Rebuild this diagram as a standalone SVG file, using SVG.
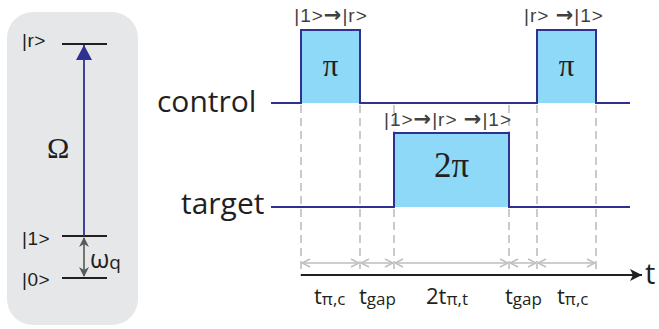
<svg xmlns="http://www.w3.org/2000/svg" width="659" height="329" viewBox="0 0 659 329">
<defs>
<style>
.sans{font-family:"Open Sans","Liberation Sans",sans-serif;fill:#231f20}
.serif{font-family:"Liberation Serif","DejaVu Serif",serif;fill:#231f20}
.lvl{stroke:#231f20;stroke-width:1.8}
.sig{fill:none;stroke:#2e3192;stroke-width:2}
.pulse{fill:#8ed8f8;stroke:none}
.dash{stroke:#bcbec0;stroke-width:1.6;stroke-dasharray:8 5}
.span{stroke:#bcbec0;stroke-width:1.5;marker-start:url(#ch);marker-end:url(#ch)}
.st{font-family:"Liberation Sans",Arial,sans-serif;fill:#414042;font-size:19px;letter-spacing:1px}
.ar{font-family:"DejaVu Sans",sans-serif;font-weight:bold;font-size:21px}
.ket{font-family:"Liberation Sans",Arial,sans-serif;fill:#231f20;font-size:19px;letter-spacing:0.5px}
</style>
<marker id="ch" viewBox="0 0 10 10" refX="10" refY="5" markerWidth="10" markerHeight="10" markerUnits="userSpaceOnUse" orient="auto-start-reverse">
<path d="M2,1 L10,5 L2,9" fill="none" stroke="#bcbec0" stroke-width="1.5"/>
</marker>
<marker id="gr" viewBox="0 0 10 10" refX="9" refY="5" markerWidth="10" markerHeight="10" markerUnits="userSpaceOnUse" orient="auto-start-reverse">
<path d="M0,0 L10,5 L0,10 L3,5 Z" fill="#58595b"/>
</marker>
<marker id="bl" viewBox="0 0 16 16" refX="15" refY="8" markerWidth="16" markerHeight="16" markerUnits="userSpaceOnUse" orient="auto">
<path d="M0,0 L15,8 L0,16 Z" fill="#2e3192"/>
</marker>
<marker id="ax" viewBox="0 0 12 12" refX="12" refY="6" markerWidth="12" markerHeight="12" markerUnits="userSpaceOnUse" orient="auto">
<path d="M0,0 L12,6 L0,12 L3,6 Z" fill="#231f20"/>
</marker>
</defs>

<g id="level-panel">
<rect x="7" y="12" width="131" height="313" rx="26" fill="#e6e7e8"/>
<line class="lvl" x1="62" y1="44" x2="107" y2="44"/>
<line class="lvl" x1="62" y1="236" x2="107" y2="236"/>
<line class="lvl" x1="62" y1="278" x2="107" y2="278"/>
<text class="ket" x="22" y="47">|r&gt;</text>
<text class="ket" x="22" y="245">|1&gt;</text>
<text class="ket" x="22" y="286">|0&gt;</text>
<line x1="84" y1="236" x2="84" y2="45" stroke="#2e3192" stroke-width="1.8" marker-end="url(#bl)"/>
<line x1="84" y1="238" x2="84" y2="276" stroke="#58595b" stroke-width="1.6" marker-start="url(#gr)" marker-end="url(#gr)"/>
<text class="serif" x="47" y="158" font-size="30">Ω</text>
<text class="sans" x="90" y="268" font-size="25">ω<tspan font-size="19" dy="1">q</tspan></text>
</g>

<g id="connectors">
<line class="dash" x1="301" y1="105" x2="301" y2="276"/>
<line class="dash" x1="360" y1="105" x2="360" y2="276"/>
<line class="dash" x1="394" y1="105" x2="394" y2="276"/>
<line class="dash" x1="509" y1="105" x2="509" y2="276"/>
<line class="dash" x1="537" y1="105" x2="537" y2="276"/>
<line class="dash" x1="596" y1="105" x2="596" y2="276"/>
<line class="span" x1="302" y1="263" x2="359" y2="263"/>
<line class="span" x1="361" y1="263" x2="393" y2="263"/>
<line class="span" x1="395" y1="263" x2="508" y2="263"/>
<line class="span" x1="510" y1="263" x2="536" y2="263"/>
<line class="span" x1="538" y1="263" x2="595" y2="263"/>
<line x1="301" y1="275" x2="642" y2="275" stroke="#231f20" stroke-width="2" marker-end="url(#ax)"/>
</g>

<g id="control">
<text class="sans" x="157" y="112" font-size="30">control</text>
<rect class="pulse" x="301" y="30" width="59" height="73"/>
<rect class="pulse" x="537" y="30" width="59" height="73"/>
<path class="sig" d="M271,103 H301 V30 H360 V103 H537 V30 H596 V103 H630"/>
<text class="serif" x="330.5" y="76" font-size="31" text-anchor="middle">π</text>
<text class="serif" x="566.5" y="76" font-size="31" text-anchor="middle">π</text>
<text class="st" x="331" y="22" text-anchor="middle">|1&gt;<tspan class="ar">→</tspan>|r&gt;</text>
<text class="st" x="564" y="22" text-anchor="middle">|r&gt; <tspan class="ar">→</tspan>|1&gt;</text>
</g>

<g id="target">
<text class="sans" x="181" y="214" font-size="30">target</text>
<rect class="pulse" x="394" y="133" width="115" height="74"/>
<path class="sig" d="M271,207 H394 V133 H509 V207 H630"/>
<text class="serif" x="451.5" y="177" font-size="35" text-anchor="middle">2π</text>
<text class="st" x="448" y="126" text-anchor="middle">|1&gt;<tspan class="ar">→</tspan>|r&gt; <tspan class="ar">→</tspan>|1&gt;</text>
</g>

<g id="time-labels">
<text class="sans" x="645" y="284" font-size="29">t</text>
<text class="sans" x="314" y="304" font-size="22">t<tspan font-size="17" dy="1">π,c</tspan></text>
<text class="sans" x="359" y="304" font-size="22">t<tspan font-size="17" dy="1">gap</tspan></text>
<text class="sans" x="426" y="304" font-size="22">2t<tspan font-size="17" dy="1">π,t</tspan></text>
<text class="sans" x="505" y="304" font-size="22">t<tspan font-size="17" dy="1">gap</tspan></text>
<text class="sans" x="557" y="304" font-size="22">t<tspan font-size="17" dy="1">π,c</tspan></text>
</g>
</svg>
